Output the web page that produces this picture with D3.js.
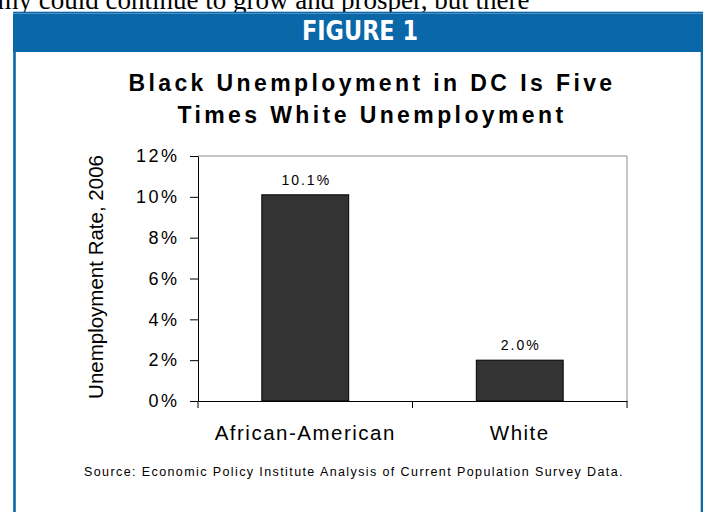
<!DOCTYPE html>
<html>
<head>
<meta charset="utf-8">
<script src="https://cdn.jsdelivr.net/npm/d3@7"></script>
<style>
  body { margin: 0; background: #fff; }
  svg { display: block; }
  .axis text { font-family: "Liberation Sans", Arial, sans-serif; fill: #000; }
</style>
</head>
<body>
<script>
// chart values
var categories = ["African-American", "White"];
var rates = [10.1, 2.0];
var rateLabels = ["10.1%", "2.0%"];
var yTicks = [0, 2, 4, 6, 8, 10, 12];

var W = 703, H = 512;
var margin = {top: 156, left: 198, right: 76, bottom: 111};
var w = W - margin.left - margin.right,
    h = H - margin.top - margin.bottom;

var svg = d3.select("body").append("svg")
    .attr("width", W)
    .attr("height", H);

// bit of page text above the box
svg.append("text")
    .attr("x", -16)
    .attr("y", 9)
    .style("font-family", "'Liberation Serif', 'Times New Roman', serif")
    .style("font-size", "27px")
    .text("omy could continue to grow and prosper, but there");

// figure box + header
svg.append("rect")
    .attr("x", 14.5).attr("y", 13)
    .attr("width", 687.5).attr("height", 520)
    .attr("fill", "none")
    .attr("stroke", "#0a67a8")
    .attr("stroke-width", 2.6);

svg.append("rect")
    .attr("x", 13).attr("y", 13)
    .attr("width", 690).attr("height", 39)
    .attr("fill", "#0a67a8");

svg.append("rect")
    .attr("x", 13).attr("y", 13)
    .attr("width", 690).attr("height", 1)
    .attr("fill", "#4f8fc6");

svg.append("text")
    .attr("x", 360).attr("y", 40)
    .attr("text-anchor", "middle")
    .attr("fill", "#fff")
    .attr("textLength", 116)
    .attr("lengthAdjust", "spacingAndGlyphs")
    .style("font-family", "'Liberation Sans Narrow', 'DejaVu Sans Condensed', sans-serif")
    .style("font-size", "27px")
    .style("font-weight", "bold")
    .text("FIGURE 1");

// title
var title = svg.append("text")
    .attr("text-anchor", "middle")
    .style("font-family", "'Liberation Sans', Arial, sans-serif")
    .style("font-size", "23px")
    .style("font-weight", "bold")
    .style("letter-spacing", "3.4px");
title.append("tspan").attr("x", 372).attr("y", 91).text("Black Unemployment in DC Is Five");
title.append("tspan").attr("x", 372).attr("y", 123).text("Times White Unemployment");

var g = svg.append("g")
    .attr("transform", "translate(" + margin.left + "," + margin.top + ")");

var xScale = d3.scaleBand()
    .domain(categories)
    .range([0, w])
    .paddingInner(0.595)
    .paddingOuter(0.2975);

var yScale = d3.scaleLinear()
    .domain([0, 12])
    .range([h, 0]);

// plot frame (top and right in grey)
g.append("path")
    .attr("d", "M0,0H" + w + "V" + h)
    .attr("fill", "none")
    .attr("stroke", "#8c8c8c")
    .attr("stroke-width", 1);

// bars
g.selectAll(".bar")
    .data(rates)
  .enter().append("rect")
    .attr("class", "bar")
    .attr("x", function(d, i) { return xScale(categories[i]); })
    .attr("y", function(d) { return yScale(d); })
    .attr("width", xScale.bandwidth())
    .attr("height", function(d) { return h - yScale(d); })
    .attr("fill", "#333333")
    .attr("stroke", "#000")
    .attr("stroke-width", 1);

// value labels
g.selectAll(".val")
    .data(rates)
  .enter().append("text")
    .attr("class", "val")
    .attr("x", function(d, i) { return xScale(categories[i]) + xScale.bandwidth() / 2 + 1; })
    .attr("y", function(d) { return yScale(d) - 10; })
    .attr("text-anchor", "middle")
    .style("font-family", "'Liberation Sans', Arial, sans-serif")
    .style("font-size", "14px")
    .style("letter-spacing", "2px")
    .text(function(d, i) { return rateLabels[i]; });

// y axis
var yAxis = d3.axisLeft(yScale)
    .tickValues(yTicks)
    .tickSize(8)
    .tickSizeOuter(0)
    .tickPadding(13)
    .tickFormat(function(d) { return d + "%"; });

var gy = g.append("g")
    .attr("class", "axis")
    .call(yAxis);
gy.selectAll("text")
    .style("font-size", "18px")
    .style("letter-spacing", "2.5px")
    .attr("dx", "2.5px");
gy.selectAll("line, path").attr("stroke", "#000");

// x axis: labels from band scale, ticks at category boundaries
var xAxis = d3.axisBottom(xScale)
    .tickSize(0)
    .tickSizeOuter(0)
    .tickPadding(24);

var gx = g.append("g")
    .attr("class", "axis")
    .attr("transform", "translate(0," + h + ")")
    .call(xAxis);
gx.select(".domain").attr("stroke", "#000");
gx.selectAll("text")
    .style("font-size", "20.5px")
    .style("letter-spacing", "1.5px");

var step = xScale.step();
var edges = categories.map(function(c) { return xScale(c) - xScale.paddingInner() * step / 2; });
edges.push(w);
gx.selectAll(".edge")
    .data(edges)
  .enter().append("line")
    .attr("class", "edge")
    .attr("x1", function(d) { return d; })
    .attr("x2", function(d) { return d; })
    .attr("y1", 0)
    .attr("y2", 7)
    .attr("stroke", "#000");

// y axis title
svg.append("text")
    .attr("transform", "translate(103,277) rotate(-90)")
    .attr("text-anchor", "middle")
    .style("font-family", "'Liberation Sans', Arial, sans-serif")
    .style("font-size", "20.5px")
    .text("Unemployment Rate, 2006");

// source note
svg.append("text")
    .attr("x", 354).attr("y", 476)
    .attr("text-anchor", "middle")
    .style("font-family", "'Liberation Sans', Arial, sans-serif")
    .style("font-size", "12.5px")
    .style("letter-spacing", "1.4px")
    .text("Source:  Economic Policy Institute Analysis of Current Population Survey Data.");
</script>
</body>
</html>
